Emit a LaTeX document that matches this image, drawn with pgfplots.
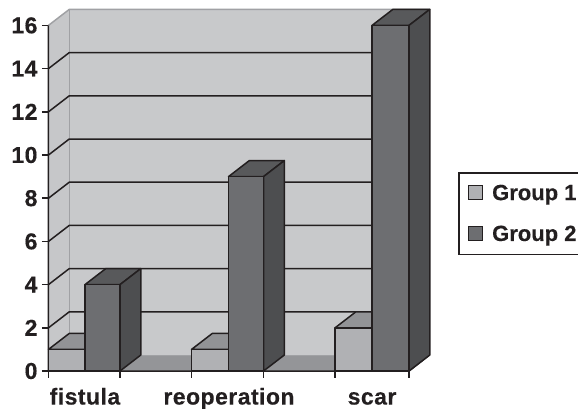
\documentclass[border=0pt]{standalone}
\usepackage{fontspec}
\setmainfont{Liberation Sans}
\newfontfamily\axisfont[LetterSpace=2,BoldFeatures={FakeBold=0.3}]{Liberation Sans}
\newfontfamily\keyfont[BoldFeatures={FakeBold=0.3}]{Liberation Sans}
\usepackage{pgfplots}
\pgfplotsset{compat=1.18}

\definecolor{ink}{HTML}{231F20}
\definecolor{wallback}{HTML}{C8C9CB}
\definecolor{wallside}{HTML}{C6C7C9}
\definecolor{walledge}{HTML}{A0A1A4}
\definecolor{floorcol}{HTML}{949598}
\definecolor{oneFront}{HTML}{B0B1B4}
\definecolor{oneTop}{HTML}{929396}
\definecolor{oneSide}{HTML}{7F8083}
\definecolor{twoFront}{HTML}{6D6E71}
\definecolor{twoTop}{HTML}{58595B}
\definecolor{twoSide}{HTML}{4D4E50}

% depth of the oblique projection, in axis units
\newcommand\dx{0.173}
\newcommand\dy{0.74}

% one bar: left edge, right edge, value, colour prefix
\newcommand\threedbar[4]{%
  \pgfmathsetmacro\xa{#1+\dx}%
  \pgfmathsetmacro\xb{#2+\dx}%
  \pgfmathsetmacro\yb{#3+\dy}%
  \addplot[forget plot,fill=#4Top,draw=ink,line width=1.5pt,line join=round] coordinates {(#1,#3) (#2,#3) (\xb,\yb) (\xa,\yb)} --cycle;
  \addplot[forget plot,fill=#4Side,draw=ink,line width=1.5pt,line join=round] coordinates {(#2,0) (\xb,\dy) (\xb,\yb) (#2,#3)} --cycle;
  \addplot[forget plot,fill=#4Front,draw=ink,line width=1.5pt,line join=round] coordinates {(#1,0) (#2,0) (#2,#3) (#1,#3)} --cycle;
}

% one gridline across the side wall and the back wall
\newcommand\gridat[1]{%
  \pgfmathsetmacro\yb{#1+\dy}%
  \addplot[forget plot,draw=ink,line width=1.5pt] coordinates {(0,#1) (\dx,\yb) (3.173,\yb)};
}

\begin{document}
\begin{tikzpicture}[x=1pt,y=1pt]
\path[use as bounding box,clip] (-48.5,-37) rectangle (529.5,371);
\begin{axis}[
  at={(0,0)},anchor=origin,
  scale only axis,
  width=380.8pt,height=361.6pt,
  xmin=0,xmax=3.173,ymin=0,ymax=16.74,
  clip=false,
  axis line style={draw=none},
  tick style={draw=ink,line width=1.5pt},
  tick align=outside,
  major tick length=6.5pt,
  xtick={0,0.596,1.192,1.792,2.388,3.004},
  xticklabels={},
  extra x ticks={0.304,1.504,2.696},
  extra x tick labels={fistula,reoperation,scar},
  extra x tick style={major tick length=0pt,xticklabel style={yshift=-14pt,text height=16pt,text depth=5pt}},
  ytick={0,2,...,16},
  xtick pos=bottom,ytick pos=left,
  /pgf/number format/assume math mode=true,
  ticklabel style={font=\axisfont\bfseries\fontsize{23}{25}\selectfont,text=ink},
  yticklabel style={xshift=-1pt},
  legend style={
    at={(1.0754,0.5503)},anchor=north west,
    draw=ink,line width=1.5pt,
    font=\keyfont\bfseries\fontsize{22}{25}\selectfont,
    text=ink,inner xsep=9pt,inner ysep=10pt,
    row sep=20pt,
  },
  legend cell align=left,
]
% walls and floor
\addplot[forget plot,fill=wallback,draw=none] coordinates {(0.173,0.74) (3.173,0.74) (3.173,16.74) (0.173,16.74)} --cycle;
\addplot[forget plot,fill=wallside,draw=none] coordinates {(0,0) (0.173,0.74) (0.173,16.74) (0,16)} --cycle;
\addplot[forget plot,fill=floorcol,draw=none] coordinates {(0,0) (3.004,0) (3.173,0.74) (0.173,0.74)} --cycle;
\addplot[forget plot,draw=walledge,line width=1.5pt] coordinates {(0,16) (0.173,16.74) (3.173,16.74)};
\addplot[forget plot,draw=walledge,line width=1.5pt] coordinates {(0.173,16.74) (0.173,0.74)};
\addplot[forget plot,draw=walledge,line width=1pt] coordinates {(0.173,0.74) (3.173,0.74)};
\gridat{2}\gridat{4}\gridat{6}\gridat{8}\gridat{10}\gridat{12}\gridat{14}
% axis lines
\addplot[forget plot,draw=ink,line width=1.5pt] coordinates {(0,16) (0,0) (3.004,0) (3.173,0.74)};
% bars, left to right
\threedbar{0}{0.304}{1}{one}
\threedbar{0.304}{0.596}{4}{two}
\threedbar{1.192}{1.5}{1}{one}
\threedbar{1.5}{1.792}{9}{two}
\threedbar{2.388}{2.696}{2}{one}
\threedbar{2.696}{3.004}{16}{two}
% key, with the swatch padded on its right to set the text further in
\addlegendimage{legend image code/.code={\draw[fill=oneFront,draw=ink,line width=1.3pt] (0pt,-6.5pt) rectangle (14pt,7.5pt); \path (21pt,0pt);}}
\addlegendentry{Group 1}
\addlegendimage{legend image code/.code={\draw[fill=twoFront,draw=ink,line width=1.3pt] (0pt,-6.5pt) rectangle (14pt,7.5pt); \path (21pt,0pt);}}
\addlegendentry{Group 2}
\end{axis}
\end{tikzpicture}
\end{document}
